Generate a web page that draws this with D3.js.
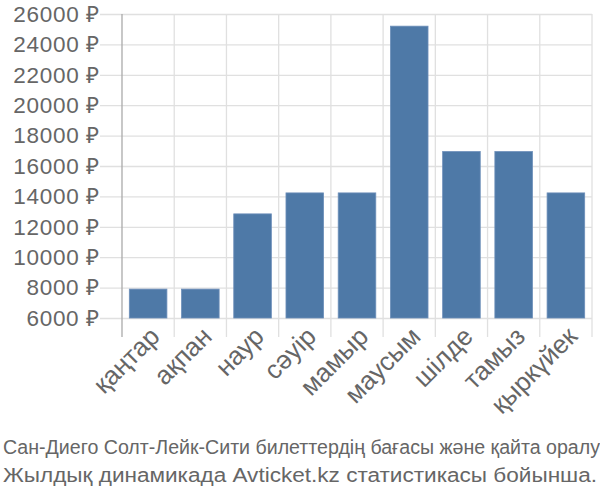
<!DOCTYPE html>
<html>
<head>
<meta charset="utf-8">
<script src="https://cdn.jsdelivr.net/npm/d3@7"></script>
<style>
  html, body { margin: 0; padding: 0; background: #fff; }
  svg { display: block; }
  text { font-family: "Liberation Sans", Arial, sans-serif; fill: #666; }
</style>
</head>
<body>
<svg id="chart" width="600" height="500"></svg>
<script>
const categories = ["қаңтар", "ақпан", "наур", "сәуір", "мамыр", "маусым", "шілде", "тамыз", "қыркүйек"];
const prices = [7900, 7900, 12850, 14230, 14230, 25200, 16950, 16950, 14230];
const yTicks = [6000, 8000, 10000, 12000, 14000, 16000, 18000, 20000, 22000, 24000, 26000];
const titleLines = [
  "Сан-Диего Солт-Лейк-Сити билеттердің бағасы және қайта оралу",
  "Жылдық динамикада Avticket.kz статистикасы бойынша."
];

const svg = d3.select("#chart");
const mLeft = 122, mRight = 592, mTop = 14, mBottom = 318;

const x = d3.scaleBand().domain(categories).range([mLeft, mRight]).paddingInner(0.28).paddingOuter(0.14);
const y = d3.scaleLinear().domain([6000, 26000]).range([mBottom, mTop]);
const step = x.step();

// horizontal gridlines + tick labels
const yAxis = d3.axisLeft(y).tickValues(yTicks).tickSize(-(mRight - mLeft)).tickPadding(0)
  .tickFormat(d => d + " ₽");
const gy = svg.append("g").attr("transform", `translate(${mLeft},0)`).call(yAxis);
gy.select(".domain").remove();
gy.selectAll(".tick line").attr("x1", -22).attr("stroke", "#e0e0e0").attr("stroke-width", 1.3);
gy.selectAll(".tick text").attr("x", -22).attr("font-size", 22.5).attr("fill", "#666")
  .attr("letter-spacing", 0.7)
  .attr("font-family", "'Liberation Sans', Arial, sans-serif");

// vertical gridlines at band boundaries
const bounds = categories.map((c, i) => mLeft + i * step).concat([mRight]);
svg.append("g").selectAll("line").data(bounds.slice(1)).join("line")
  .attr("x1", d => d).attr("x2", d => d)
  .attr("y1", mTop).attr("y2", mBottom + 19)
  .attr("stroke", "#e0e0e0").attr("stroke-width", 1.3);

// left axis line
svg.append("line").attr("x1", mLeft).attr("x2", mLeft).attr("y1", mTop).attr("y2", mBottom + 19)
  .attr("stroke", "#aaa").attr("stroke-width", 1.3);

// bars
svg.append("g").selectAll("rect").data(prices).join("rect")
  .attr("x", (d, i) => x(categories[i]))
  .attr("width", x.bandwidth())
  .attr("y", d => y(d))
  .attr("height", d => y(6000) - y(d))
  .attr("fill", "#4e79a7")
  .attr("stroke", "#6d8fba").attr("stroke-width", 0.8);

// x labels
const xAxis = d3.axisBottom(x).tickSize(0).tickPadding(0);
const gx = svg.append("g").attr("transform", `translate(0,${mBottom})`).call(xAxis);
gx.select(".domain").remove();
gx.selectAll(".tick text")
  .attr("font-size", 26).attr("fill", "#666")
  .attr("font-family", "'Liberation Sans', Arial, sans-serif")
  .attr("text-anchor", "end")
  .attr("dy", 0)
  .attr("transform", "translate(13,20) rotate(-45)");

// title
svg.append("g").selectAll("text").data(titleLines).join("text")
  .attr("x", 3).attr("y", (d, i) => 454 + i * 28)
  .attr("font-size", 19.5)
  .attr("textLength", (d, i) => i === 0 ? 597 : 594)
  .attr("lengthAdjust", "spacingAndGlyphs")
  .attr("fill", "#666")
  .text(d => d);
</script>
</body>
</html>
